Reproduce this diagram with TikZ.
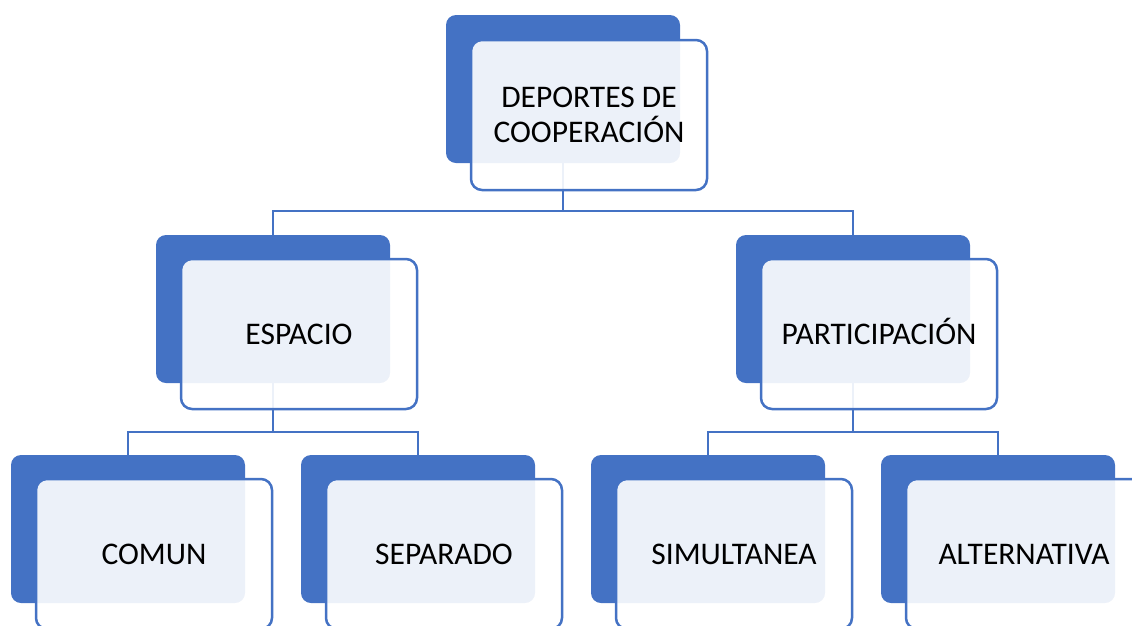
\documentclass[tikz,border=0pt]{standalone}
\usepackage{fontspec}
\setmainfont{Carlito}
\definecolor{accent}{HTML}{4472C4}
\tikzset{
  back/.style={fill=accent, draw=none, rounded corners=10pt, minimum width=234pt, minimum height=148pt, inner sep=0pt},
  front/.style={fill=white, fill opacity=0.9, text opacity=1, draw=accent, line width=2.5pt, rounded corners=11pt,
    minimum width=236pt, minimum height=150pt, inner sep=0pt, align=center, font=\fontsize{31.5}{35}\selectfont},
  link/.style={draw=accent, line width=2.5pt}
}
\begin{document}
\begin{tikzpicture}[x=1pt,y=-1pt]
\useasboundingbox (0,0) rectangle (1132,625);
% back rectangles
\node[back] (topD) at (563,89) {};
\node[back] (espD) at (273,309) {};
\node[back] (parD) at (853,309) {};
\node[back] (comD) at (128,529) {};
\node[back] (sepD) at (418,529) {};
\node[back] (simD) at (708,529) {};
\node[back] (altD) at (998,529) {};
% connectors (behind the front boxes)
\draw[link] (topD.south) -- +(0,48) coordinate (bus1);
\draw[link] (espD.north) |- (bus1) -| (parD.north);
\draw[link] (espD.south) -- +(0,49) coordinate (bus2);
\draw[link] (comD.north) |- (bus2) -| (sepD.north);
\draw[link] (parD.south) -- +(0,49) coordinate (bus3);
\draw[link] (simD.north) |- (bus3) -| (altD.north);
% front boxes
\node[front] (topF) at (589,115) {DEPORTES DE\\COOPERACIÓN};
\node[front] (espF) at (299,334) {ESPACIO};
\node[front] (parF) at (879,334) {PARTICIPACI\smash{Ó}N};
\node[front] (comF) at (154,554) {COMUN};
\node[front] (sepF) at (444,554) {SEPARADO};
\node[front] (simF) at (734,554) {SIMULTANEA};
\node[front] (altF) at (1024,554) {ALTERNATIVA};
\end{tikzpicture}
\end{document}
